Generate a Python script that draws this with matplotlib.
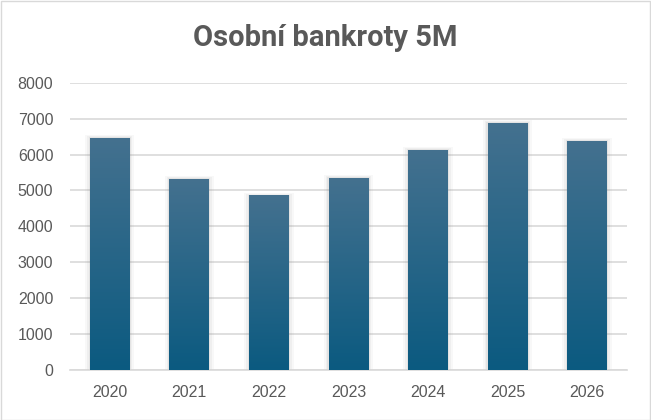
import numpy as np
import matplotlib
matplotlib.use("Agg")
import matplotlib.pyplot as plt
from matplotlib.colors import LinearSegmentedColormap
from matplotlib.patches import Rectangle

years = ["2020", "2021", "2022", "2023", "2024", "2025", "2026"]
bankroty = [6470, 5330, 4860, 5360, 6140, 6890, 6390]

plt.rcParams['font.family'] = ['Liberation Sans', 'DejaVu Sans']

fig = plt.figure(figsize=(6.51, 4.20), dpi=100)
ax = fig.add_axes([0.1075, 0.119, 0.8555, 0.684])

x = np.arange(len(years))
bars = ax.bar(x, bankroty, width=0.5, color='none', zorder=3)

# gradient fill + soft shadow
grad = LinearSegmentedColormap.from_list('g', ['#0b5a80', '#44718f'])
img = np.linspace(0, 1, 256).reshape(-1, 1)
for b in bars:
    x0, w, h = b.get_x(), b.get_width(), b.get_height()
    for k, a in [(0.06, 0.05), (0.035, 0.07), (0.015, 0.1)]:
        ax.add_patch(Rectangle((x0 - k, 0), w + 2 * k, h + k * 1200, color='#808080',
                               alpha=a, lw=0, zorder=2))
    im = ax.imshow(img, cmap=grad, aspect='auto', origin='lower',
                   extent=[x0, x0 + w, 0, h], zorder=3)
    im.set_clip_path(b)

ax.set_xlim(-0.5, len(years) - 0.5)
ax.set_ylim(0, 8000)
ax.set_yticks(range(0, 8001, 1000))
ax.set_xticks(x)
ax.set_xticklabels(years)
ax.yaxis.grid(True, color='#d9d9d9', lw=1.2, zorder=0)
ax.set_axisbelow(True)
for s in ['top', 'right', 'left']:
    ax.spines[s].set_visible(False)
ax.spines['bottom'].set_color('#d9d9d9')
ax.spines['bottom'].set_linewidth(1.2)
ax.tick_params(length=0, colors='#595959', labelsize=11.5)
ax.tick_params(axis='x', pad=11)
ax.tick_params(axis='y', pad=12)

fig.text(0.5, 0.91, 'Osobní bankroty 5M', ha='center', va='center',
         fontsize=21, fontweight='bold', color='#595959',
         family=['Roboto', 'DejaVu Sans'])

fig.patches.append(Rectangle((0.001, 0.001), 0.997, 0.996, transform=fig.transFigure,
                             fill=False, ec='#d9d9d9', lw=1))

fig.savefig('out.png', dpi=100)
